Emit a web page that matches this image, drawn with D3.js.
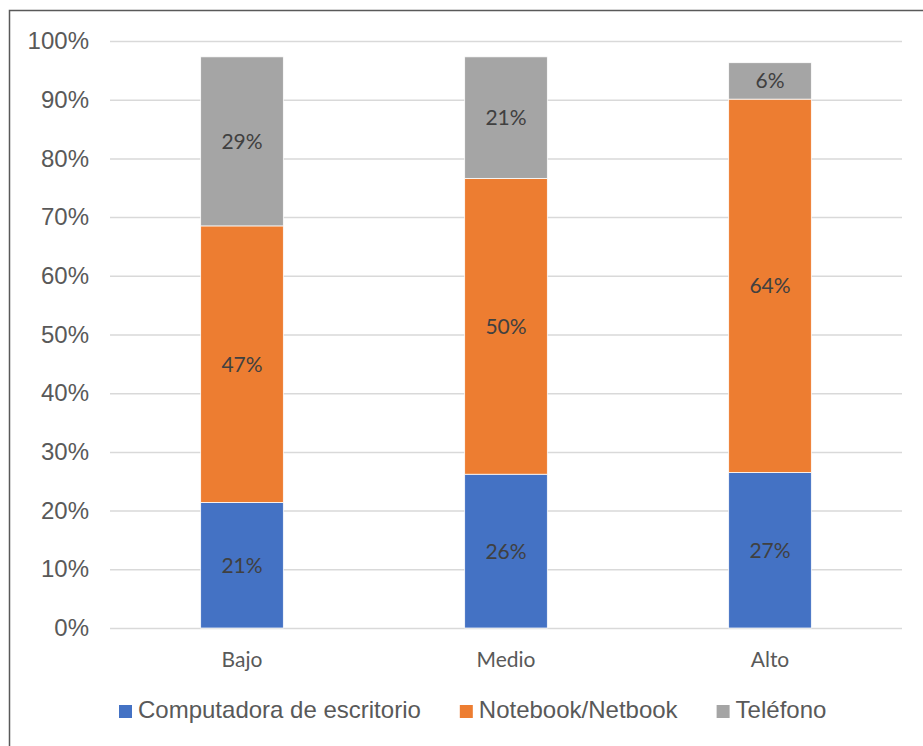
<!DOCTYPE html>
<html>
<head>
<meta charset="utf-8">
<script src="https://cdn.jsdelivr.net/npm/d3@7"></script>
<style>
  body { margin: 0; background: #fff; }
  svg { display: block; }
</style>
</head>
<body>
<div class="container__chart"></div>
<script>
// data
const categories = ["Bajo", "Medio", "Alto"];
const seriesNames = ["Computadora de escritorio", "Notebook/Netbook", "Teléfono"];
const desktop = [21.4, 26.2, 26.5];
const notebook = [47.1, 50.4, 63.6];
const phone = [28.8, 20.7, 6.2];
const yTicks = [0, 10, 20, 30, 40, 50, 60, 70, 80, 90, 100];
const colors = ["#4472C4", "#ED7D31", "#A5A5A5"];

const WIDTH = 923;
const HEIGHT = 746;
const plot = { left: 110, right: 902, top: 41, bottom: 628 };

const rows = categories.map((c, i) => ({ cat: c, d0: desktop[i], d1: notebook[i], d2: phone[i] }));
const stack = d3.stack().keys(["d0", "d1", "d2"])(rows);

const xScale = d3.scaleBand().domain(categories).range([plot.left, plot.right])
    .paddingInner(0.687).paddingOuter(0.3435);
const yScale = d3.scaleLinear().domain([0, 100]).range([plot.bottom, plot.top]);

const svg = d3.select(".container__chart")
    .append("svg")
    .attr("width", WIDTH)
    .attr("height", HEIGHT);

// chart border
svg.append("rect")
    .attr("x", 9.5).attr("y", 10.5)
    .attr("width", 930).attr("height", 750)
    .attr("fill", "none")
    .attr("stroke", "#595959")
    .attr("stroke-width", 1.5);

// y axis + gridlines
const yAxis = svg.append("g")
    .attr("transform", `translate(${plot.left},0)`)
    .call(d3.axisLeft(yScale).tickValues(yTicks).tickFormat(d => d + "%")
        .tickSize(-(plot.right - plot.left)).tickPadding(21));
yAxis.select(".domain").remove();
yAxis.selectAll("line").attr("stroke", "#D9D9D9").attr("stroke-width", 1.5);
yAxis.selectAll("text")
    .attr("fill", "#595959")
    .style("font-family", "'Liberation Sans', Arial, sans-serif")
    .style("font-size", "24px");

// bars
const layers = svg.selectAll(".layer")
    .data(stack)
    .enter()
    .append("g")
    .attr("class", "layer")
    .attr("fill", (d, i) => colors[i]);

layers.selectAll("rect")
    .data(d => d)
    .enter()
    .append("rect")
    .attr("x", d => xScale(d.data.cat))
    .attr("width", xScale.bandwidth())
    .attr("y", d => yScale(d[1]))
    .attr("height", d => yScale(d[0]) - yScale(d[1]))
    .attr("stroke", "#fff")
    .attr("stroke-width", 0.75);

// data labels
layers.selectAll("text")
    .data(d => d)
    .enter()
    .append("text")
    .attr("x", d => xScale(d.data.cat) + xScale.bandwidth() / 2)
    .attr("y", d => yScale((d[0] + d[1]) / 2))
    .attr("dy", "0.36em")
    .attr("text-anchor", "middle")
    .attr("fill", "#404040")
    .style("font-family", "Lato, sans-serif")
    .style("font-size", "21px")
    .text(d => Math.round(d[1] - d[0]) + "%");

// x axis
const xAxis = svg.append("g")
    .attr("transform", `translate(0,${plot.bottom})`)
    .call(d3.axisBottom(xScale).tickSize(0).tickPadding(24));
xAxis.select(".domain").remove();
xAxis.selectAll("text")
    .attr("fill", "#595959")
    .style("font-family", "Lato, sans-serif")
    .style("font-size", "21px");

// legend
const legend = svg.append("g").attr("transform", "translate(119,718)");
let lx = 0;
seriesNames.forEach((name, i) => {
    const item = legend.append("g").attr("transform", `translate(${lx},0)`);
    item.append("rect")
        .attr("x", 0).attr("y", -13)
        .attr("width", 13).attr("height", 13)
        .attr("fill", colors[i]);
    const t = item.append("text")
        .attr("x", 19)
        .attr("fill", "#595959")
        .style("font-family", "'Liberation Sans', Arial, sans-serif")
        .style("font-size", "24px")
        .text(name);
    lx += 19 + t.node().getComputedTextLength() + 39;
});
</script>
</body>
</html>
